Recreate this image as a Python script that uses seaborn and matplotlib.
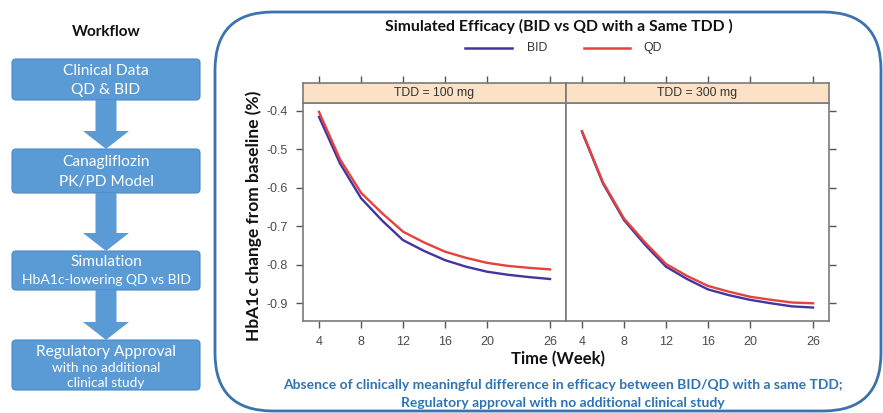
import numpy as np
import pandas as pd
import matplotlib
matplotlib.use("Agg")
import matplotlib.pyplot as plt
import seaborn as sns
from matplotlib.patches import FancyBboxPatch, FancyArrow

# ---------------- data ----------------
weeks = [4, 6, 8, 10, 12, 14, 16, 18, 20, 22, 24, 26]
bid_100 = [-0.416, -0.537, -0.627, -0.685, -0.736, -0.764, -0.788, -0.805, -0.818, -0.826, -0.832, -0.837]
qd_100 = [-0.403, -0.526, -0.613, -0.666, -0.714, -0.742, -0.766, -0.782, -0.795, -0.803, -0.808, -0.812]
bid_300 = [-0.455, -0.589, -0.684, -0.748, -0.805, -0.837, -0.864, -0.879, -0.891, -0.900, -0.908, -0.911]
qd_300 = [-0.453, -0.586, -0.680, -0.742, -0.798, -0.829, -0.855, -0.870, -0.883, -0.891, -0.898, -0.900]
panels = ["TDD = 100 mg", "TDD = 300 mg"]
regimens = ["BID", "QD"]
x_ticks = [4, 8, 12, 16, 20, 26]
y_ticks = [-0.4, -0.5, -0.6, -0.7, -0.8, -0.9]
y_tick_labels = ["-0.4", "-0.5", "-0.6", "-0.7", "-0.8", "-0.9"]
title = "Simulated Efficacy (BID vs QD with a Same TDD )"
x_label = "Time (Week)"
y_label = "HbA1c change from baseline (%)"
conclusion = ["Absence of clinically meaningful difference in efficacy between BID/QD with a same TDD;",
              "Regulatory approval with no additional clinical study"]
workflow_title = "Workflow"
workflow_steps = [
    ["Clinical Data", "QD & BID"],
    ["Canagliflozin", "PK/PD Model"],
    ["Simulation", "HbA1c-lowering QD vs BID"],
    ["Regulatory Approval", "with no additional", "clinical study"],
]

rows = []
for panel, (b, q) in zip(panels, [(bid_100, qd_100), (bid_300, qd_300)]):
    for w, v in zip(weeks, b):
        rows.append(dict(panel=panel, regimen="BID", week=w, change=v))
    for w, v in zip(weeks, q):
        rows.append(dict(panel=panel, regimen="QD", week=w, change=v))
df = pd.DataFrame(rows)

palette = {"BID": "#4434a0", "QD": "#e6413b"}

# ---------------- figure ----------------
W, H = 883, 413
fig = plt.figure(figsize=(W / 100, H / 100), dpi=100)
fig.patch.set_facecolor("white")

bg = fig.add_axes([0, 0, 1, 1])
bg.set_xlim(0, W)
bg.set_ylim(H, 0)
bg.axis("off")

def rect(x0, y0, x1, y1):
    return [x0 / W, 1 - y1 / H, (x1 - x0) / W, (y1 - y0) / H]

SANS = ["Lato", "DejaVu Sans"]
TICKF = ["Liberation Sans", "DejaVu Sans"]

# workflow column
box_blue = "#5b9bd5"
bg.text(106, 32, workflow_title, ha="center", va="center", fontsize=11,
        fontweight="bold", family=SANS, color="#111111")
boxes = [(59, 100), (149, 193), (251, 290), (340, 390)]
line_y = [[71, 90], [162, 182], [262, 280], [352, 368, 383]]
line_fs = [[11.2, 11.2], [11.2, 11.2], [11.2, 10], [11.2, 9.8, 9.8]]
for (y0, y1), lines, ys, fss in zip(boxes, workflow_steps, line_y, line_fs):
    bg.add_patch(FancyBboxPatch((12, y0), 188, y1 - y0,
                                boxstyle="round,pad=0,rounding_size=4",
                                fc=box_blue, ec="#4a89c6", lw=0.8))
    for t, yy, fs in zip(lines, ys, fss):
        bg.text(106, yy, t, ha="center", va="center", fontsize=fs,
                family=SANS, color="white")
for i in range(3):
    ys = boxes[i][1]
    ye = boxes[i + 1][0]
    bg.add_patch(FancyArrow(106, ys, 0, ye - ys, width=21, head_width=46,
                            head_length=18, length_includes_head=True,
                            fc=box_blue, ec="none"))

# rounded frame
bg.add_patch(FancyBboxPatch((215, 12), 666, 399,
                            boxstyle="round,pad=0,rounding_size=58",
                            fc="none", ec="#3c72ad", lw=2.0))

# title & legend
bg.text(559, 26, title, ha="center", va="center", fontsize=11.3,
        fontweight="bold", family=SANS, color="#111111")
for (xs, xe, tx), reg in zip([(465, 512, 537), (584, 630, 653)], regimens):
    bg.plot([xs, xe], [48, 48], color=palette[reg], lw=1.8)
    bg.text(tx, 48, reg, ha="center", va="center", fontsize=8.8,
            family=TICKF, color="#333333")

# axis labels
bg.text(558, 359, x_label, ha="center", va="center", fontsize=12,
        fontweight="bold", family=SANS, color="#111111")
bg.text(254, 216, y_label, ha="center", va="center", fontsize=12.5,
        fontweight="bold", family=SANS, color="#111111", rotation=90)

# conclusion
for t, yy in zip(conclusion, [385, 403]):
    bg.text(563, yy, t, ha="center", va="center", fontsize=10,
            fontweight="bold", family=SANS, color="#2e74b5")

# panels
spine_c = "#7a7a7a"
for i, panel in enumerate(panels):
    x0 = 303 + i * 263
    ax = fig.add_axes(rect(x0, 103, x0 + 263, 321))
    sns.lineplot(data=df[df.panel == panel], x="week", y="change", hue="regimen",
                 hue_order=regimens, palette=palette, lw=1.7, ax=ax, legend=False)
    ax.set_xlim(2.476, 27.52)
    ax.set_ylim(-0.946, -0.380)
    ax.set_xlabel("")
    ax.set_ylabel("")
    ax.set_xticks(x_ticks)
    ax.set_xticklabels([str(t) for t in x_ticks])
    ax.set_yticks(y_ticks)
    for s in ax.spines.values():
        s.set_color(spine_c)
        s.set_linewidth(1.2)
    ax.tick_params(axis="both", direction="out", length=5, width=1, color="#555555",
                   labelcolor="#4a4a4a", labelsize=9, pad=6)
    for lab in ax.get_xticklabels() + ax.get_yticklabels():
        lab.set_family(TICKF)
    if i == 0:
        ax.set_yticklabels(y_tick_labels)
        ax.tick_params(axis="y", left=True, right=False, labelleft=True)
    else:
        ax.tick_params(axis="y", left=False, right=True, labelleft=False, labelright=False)

    st = fig.add_axes(rect(x0, 83, x0 + 263, 103))
    st.set_facecolor("#fbe1c5")
    st.set_xlim(2.476, 27.52)
    st.set_ylim(0, 1)
    st.set_xticks(x_ticks)
    st.set_yticks([])
    st.tick_params(axis="x", top=True, bottom=False, labeltop=False, labelbottom=False,
                   direction="out", length=5, width=1, color="#555555")
    for s in st.spines.values():
        s.set_color(spine_c)
        s.set_linewidth(1.2)
    st.text(15, 0.5, panel, ha="center", va="center", fontsize=8.8,
            family=TICKF, color="#333333")

# darker separator between panels
bg.plot([566, 566], [83, 321], color="#555555", lw=1.2)

fig.savefig("out.png", dpi=100, facecolor="white")
